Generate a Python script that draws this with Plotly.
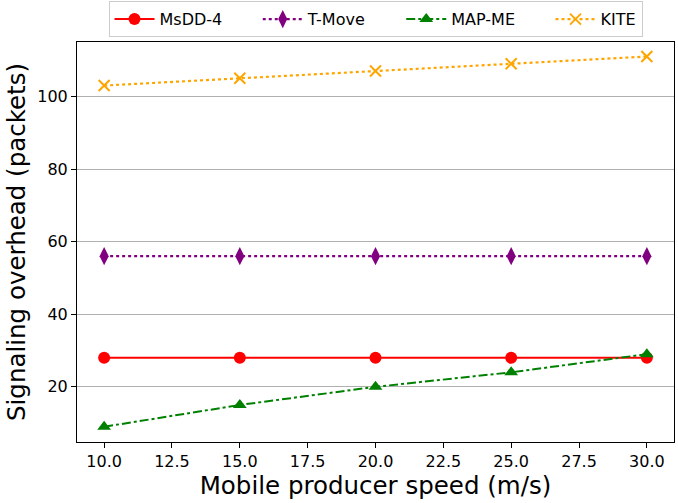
import plotly.graph_objects as go

speeds = [10, 15, 20, 25, 30]
msdd4 = [28, 28, 28, 28, 28]
tmove = [56, 56, 56, 56, 56]
mapme = [9, 15, 20, 24, 29]
kite = [103, 105, 107, 109, 111]
series_names = ["MsDD-4", "T-Move", "MAP-ME", "KITE"]

FONT = "DejaVu Sans"
PAD = "\u00a0" * 6

fig = go.Figure()
fig.add_trace(go.Scatter(x=speeds, y=msdd4, name=series_names[0] + PAD, mode="lines+markers",
                         line=dict(color="#ff0000", width=2, dash="solid"),
                         marker=dict(symbol="circle", size=12, color="#ff0000")))
fig.add_trace(go.Scatter(x=speeds, y=tmove, name=series_names[1] + PAD, mode="lines+markers",
                         line=dict(color="#800080", width=2.2, dash="dot"),
                         marker=dict(symbol="diamond-tall", size=13, color="#800080")))
fig.add_trace(go.Scatter(x=speeds, y=mapme, name=series_names[2] + PAD, mode="lines+markers",
                         line=dict(color="#008000", width=2, dash="dashdot"),
                         marker=dict(symbol="triangle-up", size=12, color="#008000")))
fig.add_trace(go.Scatter(x=speeds, y=kite, name=series_names[3], mode="lines+markers",
                         line=dict(color="#ffa500", width=2.2, dash="dot"),
                         marker=dict(symbol="x-thin", size=11, color="#ffa500",
                                     line=dict(color="#ffa500", width=2))))

fig.update_layout(
    width=678, height=503,
    margin=dict(l=77, r=4, t=42, b=61, autoexpand=False),
    paper_bgcolor="white", plot_bgcolor="white",
    font=dict(family=FONT, size=16, color="black"),
    legend=dict(orientation="h", x=0.5, xanchor="center", y=1.012, yanchor="bottom",
                bordercolor="#cccccc", borderwidth=1, font=dict(size=16, family=FONT),
                itemwidth=40, tracegroupgap=0),
    showlegend=True,
)
fig.update_xaxes(range=[9, 31], tickvals=[10, 12.5, 15, 17.5, 20, 22.5, 25, 27.5, 30],
                 ticktext=["10.0", "12.5", "15.0", "17.5", "20.0", "22.5", "25.0", "27.5", "30.0"],
                 ticks="outside", ticklen=5, tickwidth=1, tickcolor="black",
                 showline=True, linecolor="black", linewidth=1, mirror=True,
                 showgrid=False, zeroline=False,
                 title=dict(text="Mobile producer speed (m/s)", font=dict(size=24.5, family=FONT), standoff=2),
                 tickfont=dict(size=16, family=FONT))
fig.update_yaxes(range=[4.8, 115], tickvals=[20, 40, 60, 80, 100],
                 ticks="outside", ticklen=5, tickwidth=1, tickcolor="black",
                 showline=True, linecolor="black", linewidth=1, mirror=True,
                 showgrid=True, gridcolor="#b0b0b0", gridwidth=1, zeroline=False,
                 title=dict(text="Signaling overhead (packets)", font=dict(size=24.5, family=FONT), standoff=4),
                 tickfont=dict(size=16, family=FONT))

fig.write_html("out.html")
